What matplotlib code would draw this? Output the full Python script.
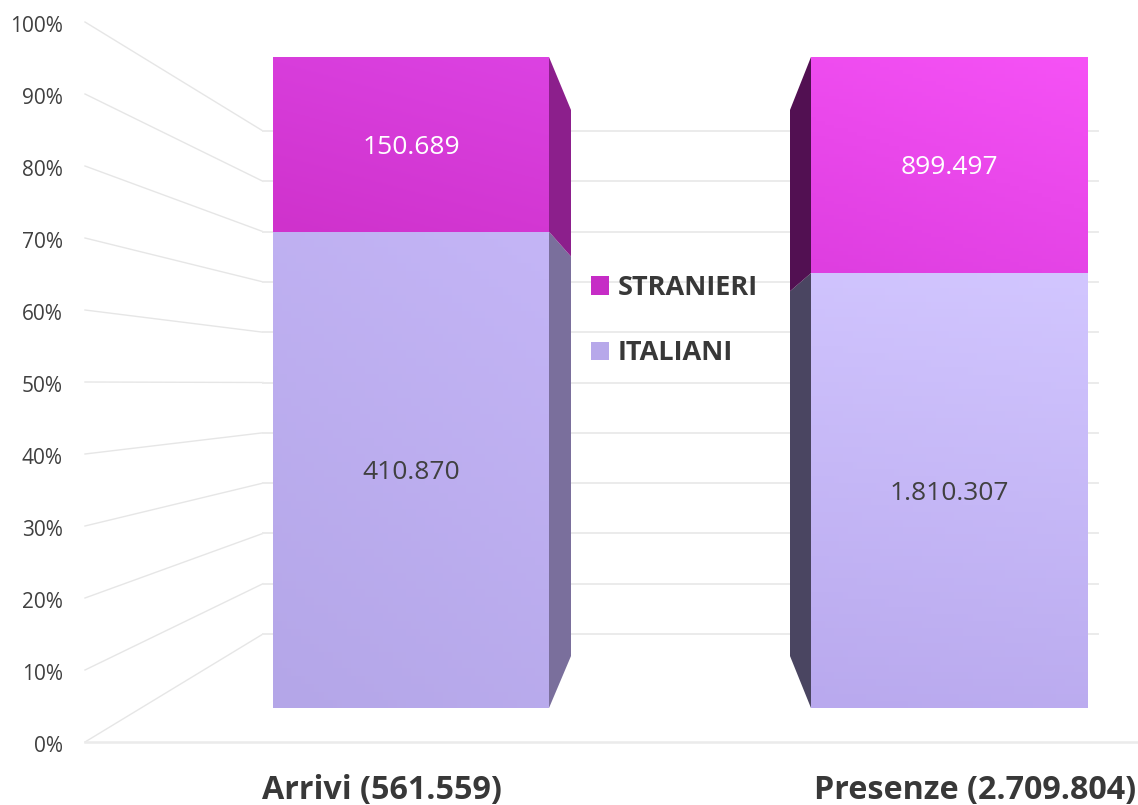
import numpy as np
import matplotlib.pyplot as plt
from matplotlib.colors import to_rgb
from matplotlib.patches import Patch
from matplotlib.transforms import ScaledTranslation

plt.rcParams["font.family"] = ["Open Sans", "DejaVu Sans"]

categories = ["Arrivi (561.559)", "Presenze (2.709.804)"]
italiani = [410870, 1810307]
stranieri = [150689, 899497]
value_labels_it = ["410.870", "1.810.307"]
value_labels_st = ["150.689", "899.497"]
ticks = [0, 10, 20, 30, 40, 50, 60, 70, 80, 90, 100]

# share of italians in each bar, 0-1
italiani = np.array(italiani, dtype=float)
stranieri = np.array(stranieri, dtype=float)
share_it = italiani / (italiani + stranieri)

W, H = 1138, 805
fig = plt.figure(figsize=(W / 100, H / 100), dpi=100, facecolor="white")
ax = fig.add_axes([85 / W, (H - 742) / H, (W - 85) / W, 720 / H])
ax.set_xlim(85, W)
ax.set_ylim(0, 100)

# fake 3D planes, in units of the percent axis
front_low, front_high = 4.72, 95.14
side_low, side_high = 11.94, 87.78
wall_low, wall_high = 15.0, 84.86
elbow_x = 263
grid_end = 1098
grid_col = "#ebebeb"

bar_left = [273, 811]
bar_width = [276, 277]
side_x = [571, 790]
edge_x = [549, 811]


def scale(p, low, high):
    return low + p * (high - low)


# wall grid, with the slanted part running out to the tick labels
for t in ticks:
    y = scale(t / 100, wall_low, wall_high)
    ax.plot([85, elbow_x], [t, y], color="#e6e6e6", lw=1.0, zorder=1, clip_on=False)
    ax.plot([elbow_x, grid_end], [y, y], color=grid_col, lw=1.4, zorder=1)


def gradient_bar(bar, c0, c1, lean=0.3):
    # c0 at bottom left, c1 at top right
    x0, y0 = bar.get_x(), bar.get_y()
    x1, y1 = x0 + bar.get_width(), y0 + bar.get_height()
    u = np.linspace(0, 1, 60)
    uu, vv = np.meshgrid(u, u)
    t = (uu * lean + vv * (1 - lean))[..., None]
    img = np.array(to_rgb(c0)) * (1 - t) + np.array(to_rgb(c1)) * t
    im = ax.imshow(img, extent=[x0, x1, y0, y1], origin="lower", aspect="auto", zorder=3.1)
    im.set_clip_path(bar)


front_it = scale(share_it, front_low, front_high) - front_low
front_st = (front_high - front_low) - front_it

bars_it = ax.bar(bar_left, front_it, width=bar_width, bottom=front_low, align="edge",
                 color="#bcaef0", zorder=3)
bars_st = ax.bar(bar_left, front_st, width=bar_width, bottom=front_low + front_it, align="edge",
                 color="#d838d8", zorder=3)

gradient_bar(bars_it[0], "#b4a6e8", "#c4b5f6")
gradient_bar(bars_st[0], "#cf32cc", "#dc42e2")
gradient_bar(bars_it[1], "#b9a9ee", "#d2c6ff", lean=0.1)
gradient_bar(bars_st[1], "#de3ee0", "#f652f6")

# side faces
side_cols_it = ["#7a6f9c", "#4a4561"]
side_cols_st = ["#8c1f8c", "#521052"]
for i in range(2):
    s = share_it[i]
    ax.fill([edge_x[i], side_x[i], side_x[i], edge_x[i]],
            [front_low, side_low, scale(s, side_low, side_high), scale(s, front_low, front_high)],
            color=side_cols_it[i], lw=0, zorder=3)
    ax.fill([edge_x[i], side_x[i], side_x[i], edge_x[i]],
            [scale(s, front_low, front_high), scale(s, side_low, side_high), side_high, front_high],
            color=side_cols_st[i], lw=0, zorder=3)

ax.bar_label(bars_it, labels=value_labels_it, label_type="center", color="#404040",
             fontsize=19, padding=-2, zorder=5)
ax.bar_label(bars_st, labels=value_labels_st, label_type="center", color="white",
             fontsize=19, padding=-2, zorder=5)

ax.set_yticks(ticks, [f"{t}%" for t in ticks], fontsize=15, color="#404040")
ax.set_xticks([382, 975], categories, fontsize=23.2, fontweight="bold", color="#383838")
ax.tick_params(axis="both", length=0)
ax.tick_params(axis="y", pad=16)
ax.tick_params(axis="x", pad=22.8)
# tick labels sit a little below their lines
nudge = ScaledTranslation(0, -2 / 100, fig.dpi_scale_trans)
for lab in ax.get_yticklabels():
    lab.set_transform(lab.get_transform() + nudge)
for name in ["top", "right", "left"]:
    ax.spines[name].set_visible(False)
ax.spines["bottom"].set_color(grid_col)
ax.spines["bottom"].set_linewidth(1.8)

handles = [Patch(color="#c62cc6", lw=0), Patch(color="#b7a8ea", lw=0)]
leg = ax.legend(handles, ["STRANIERI", "ITALIANI"], loc="upper left",
                bbox_to_anchor=((591 - 85) / (W - 85), (742 - 275) / 720),
                bbox_transform=ax.transAxes, frameon=False, borderpad=0, borderaxespad=0,
                handlelength=0.67, handleheight=0.67, handletextpad=0.3, labelspacing=1.45,
                prop={"size": 19.5, "weight": "bold"}, labelcolor="#383838")
leg.set_zorder(6)

fig.savefig("out.png", dpi=100)
